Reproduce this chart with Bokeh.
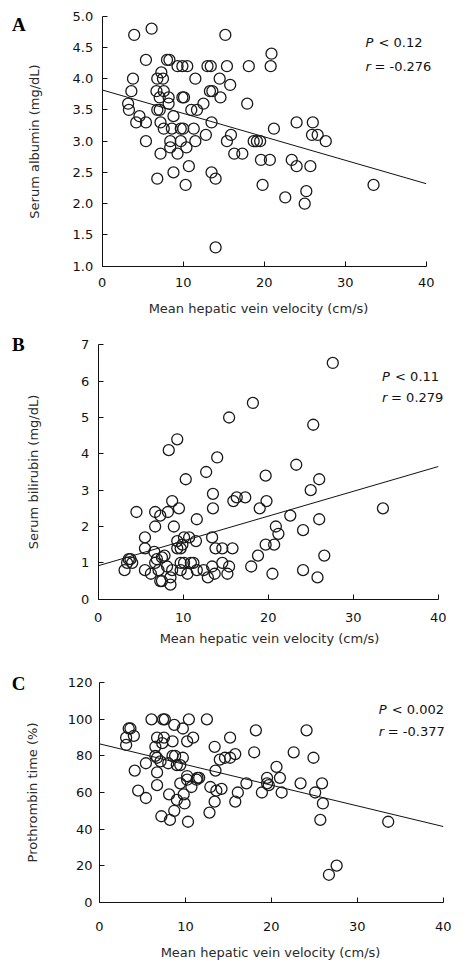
from bokeh.plotting import figure
from bokeh.models import Range1d, Label, FixedTicker, ColumnDataSource
from bokeh.layouts import column
from bokeh.embed import file_html
from bokeh.resources import INLINE

# ---------------- data ----------------
x_label = "Mean hepatic vein velocity (cm/s)"
x_ticks = [0, 10, 20, 30, 40]

# Panel A: serum albumin
albumin_x = [3.95, 6.1, 15.2, 20.9, 5.4, 8.0, 8.3, 9.3, 9.9, 10.5, 13.0, 13.4, 15.4, 18.1, 20.8,
             7.3, 3.8, 6.8, 7.5, 11.5, 14.5, 15.8, 3.6, 6.7, 7.6, 13.3, 13.6,
             7.1, 8.2, 9.9, 10.1, 14.6, 3.2, 8.2, 12.5, 17.9, 3.3, 6.8, 7.1, 11.0, 11.7,
             4.6, 8.8, 4.2, 5.4, 7.2, 13.5, 24.0, 26.0, 7.6, 8.6, 9.7, 10.0, 11.3, 21.2,
             12.8, 15.9, 25.9, 26.6, 5.4, 8.4, 9.7, 11.5, 15.4, 18.7, 19.1, 19.5, 27.6,
             8.4, 10.4, 7.2, 9.3, 16.3, 17.3, 19.6, 20.7, 23.4, 10.7, 24.0, 25.7,
             8.8, 13.5, 6.8, 14.0, 10.3, 19.8, 33.5, 25.2, 22.6, 25.0, 14.0]
albumin_y = [4.7, 4.8, 4.7, 4.4, 4.3, 4.3, 4.3, 4.2, 4.2, 4.2, 4.2, 4.2, 4.2, 4.2, 4.2,
             4.1, 4.0, 4.0, 4.0, 4.0, 4.0, 3.9, 3.8, 3.8, 3.8, 3.8, 3.8,
             3.7, 3.7, 3.7, 3.7, 3.7, 3.6, 3.6, 3.6, 3.6, 3.5, 3.5, 3.5, 3.5, 3.5,
             3.4, 3.4, 3.3, 3.3, 3.3, 3.3, 3.3, 3.3, 3.2, 3.2, 3.2, 3.2, 3.2, 3.2,
             3.1, 3.1, 3.1, 3.1, 3.0, 3.0, 3.0, 3.0, 3.0, 3.0, 3.0, 3.0, 3.0,
             2.9, 2.9, 2.8, 2.8, 2.8, 2.8, 2.7, 2.7, 2.7, 2.6, 2.6, 2.6,
             2.5, 2.5, 2.4, 2.4, 2.3, 2.3, 2.3, 2.2, 2.1, 2.0, 1.3]
albumin_ticks = [1.0, 1.5, 2.0, 2.5, 3.0, 3.5, 4.0, 4.5, 5.0]
albumin_fit = (3.82, -0.0375)   # intercept, slope
albumin_stats = ("< 0.12", "= -0.276")

# Panel B: serum bilirubin
bili_x = [27.6, 18.2, 15.4, 25.3, 9.3, 8.3, 14.0, 23.3, 12.7, 19.7, 10.3, 26.0, 25.0, 13.5,
          16.3, 17.3, 15.9, 8.7, 19.8, 4.5, 6.7, 7.3, 8.2, 9.5, 13.5, 19.0, 33.5, 22.6, 11.6, 26.0,
          6.7, 8.9, 20.9, 24.1, 21.2, 5.5, 10.1, 10.7, 13.4, 9.3, 11.5,
          5.5, 9.3, 9.7, 13.8, 14.6, 15.8, 9.9, 19.7, 20.7, 18.8, 26.6, 6.6, 7.5, 7.8,
          3.6, 3.8, 4.0, 3.4, 6.9, 6.7, 9.7, 10.1, 10.9, 11.2, 14.6,
          3.1, 5.5, 6.2, 7.1, 8.1, 8.7, 9.7, 10.5, 11.6, 12.4, 13.4, 12.9, 13.7, 15.4, 15.2,
          18.0, 20.5, 24.1, 25.8, 7.3, 7.5, 8.5, 8.5]
bili_y = [6.5, 5.4, 5.0, 4.8, 4.4, 4.1, 3.9, 3.7, 3.5, 3.4, 3.3, 3.3, 3.0, 2.9,
          2.8, 2.8, 2.7, 2.7, 2.7, 2.4, 2.4, 2.3, 2.4, 2.5, 2.5, 2.5, 2.5, 2.3, 2.2, 2.2,
          2.0, 2.0, 2.0, 1.9, 1.8, 1.7, 1.7, 1.7, 1.7, 1.6, 1.6,
          1.4, 1.4, 1.4, 1.4, 1.4, 1.4, 1.5, 1.5, 1.5, 1.2, 1.2, 1.3, 1.15, 1.2,
          1.1, 1.1, 1.0, 1.0, 1.1, 1.0, 1.0, 1.0, 1.0, 1.0, 1.0,
          0.8, 0.8, 0.7, 0.8, 0.9, 0.8, 0.8, 0.7, 0.8, 0.8, 0.9, 0.6, 0.7, 0.9, 0.7,
          0.9, 0.7, 0.8, 0.6, 0.5, 0.5, 0.6, 0.4]
bili_ticks = [0, 1, 2, 3, 4, 5, 6, 7]
bili_fit = (0.92, 0.06825)
bili_stats = ("< 0.11", "= 0.279")

# Panel C: prothrombin time
pt_x = [6.05, 7.4, 7.6, 10.4, 12.5, 8.7, 9.7, 3.4, 3.6, 18.2, 24.1,
        3.1, 4.0, 6.7, 7.5, 10.9, 15.2, 3.1, 6.5, 8.5, 10.2, 7.3, 13.4,
        6.5, 6.7, 8.5, 8.8, 9.7, 15.8, 15.2, 14.6, 18.0, 22.6, 24.9, 14.0, 7.1, 8.0, 9.0, 9.4, 5.4,
        4.1, 13.5, 6.7, 20.6, 10.2, 11.4, 11.6, 21.0, 19.5, 11.3, 17.1, 9.4, 10.2, 10.7, 19.5, 19.7,
        23.4, 25.9, 6.7, 12.9, 14.2, 13.6, 4.5, 16.1, 18.9, 21.2, 25.1,
        5.4, 8.1, 9.8, 9.0, 13.4, 15.8, 9.9, 26.0, 8.7, 12.8, 7.2, 8.2, 10.3, 25.7, 33.6, 27.6, 26.7]
pt_y = [100, 100, 100, 100, 100, 97, 95, 95, 95, 94, 94,
        90, 91, 90, 90, 90, 90, 86, 85, 88, 88, 87, 85,
        80, 79, 80, 80, 79, 81, 79, 79, 82, 82, 79, 78, 77, 76, 75, 75, 76,
        72, 72, 71, 74, 69, 68, 68, 68, 68, 67, 65, 65, 67, 63, 65, 64,
        65, 65, 64, 63, 62, 61, 61, 60, 60, 60, 60,
        57, 59, 59, 56, 55, 55, 54, 54, 50, 49, 47, 45, 44, 45, 44, 20, 15]
pt_ticks = [0, 20, 40, 60, 80, 100, 120]
pt_fit = (86.6, -1.13)
pt_stats = ("< 0.002", "= -0.377")

FONT = "DejaVu Sans"
FS = "13px"
W = 465


def panel(letter, xs, ys, fit, stats, ylabel, yticks, ytick_fmt, height,
          x0_px, x40_px, ytop_px, ybot_px, y_ls, y_as, x_ls, title_px,
          letter_pos, stats_pos):
    ymin, ymax = float(yticks[0]), float(yticks[-1])
    xs_per_px = 40.0 / (x40_px - x0_px)
    ys_per_px = (ymax - ymin) / (ybot_px - ytop_px)
    xr = Range1d(-x0_px * xs_per_px, (W - x0_px) * xs_per_px)
    yr = Range1d(ymin - (height - ybot_px) * ys_per_px, ymax + ytop_px * ys_per_px)

    p = figure(width=W, height=height, output_backend="svg", toolbar_location=None,
               x_range=xr, y_range=yr, min_border=0)
    p.outline_line_color = None
    p.xgrid.grid_line_color = None
    p.ygrid.grid_line_color = None

    for ax in (p.xaxis[0], p.yaxis[0]):
        ax.axis_line_color = "#111111"
        ax.major_tick_line_color = "#111111"
        ax.major_tick_in = 5
        ax.major_tick_out = 0
        ax.minor_tick_line_color = None
        ax.major_label_text_font = FONT
        ax.major_label_text_font_size = FS
        ax.major_label_text_color = "#111111"
        ax.axis_label_text_font = FONT
        ax.axis_label_text_font_size = FS
        ax.axis_label_text_font_style = "normal"
        ax.axis_label_text_color = "#2a2a2a"

    p.xaxis.fixed_location = ymin
    p.xaxis.bounds = (0, 40)
    p.xaxis.ticker = FixedTicker(ticks=x_ticks)
    p.xaxis.major_label_standoff = x_ls

    p.yaxis.fixed_location = 0
    p.yaxis.bounds = (ymin, ymax)
    p.yaxis.ticker = FixedTicker(ticks=yticks)
    p.yaxis.major_label_overrides = {t: ytick_fmt(t) for t in yticks}
    p.yaxis.axis_label = ylabel
    p.yaxis.major_label_standoff = y_ls
    p.yaxis.axis_label_standoff = y_as

    # x-axis title (placed as a label below the axis)
    tx_px, ty_px = title_px
    p.add_layout(Label(x=(tx_px - x0_px) * xs_per_px, y=ymin - (ty_px - ybot_px) * ys_per_px,
                       text=x_label, text_font=FONT, text_font_size=FS, text_color="#2a2a2a",
                       text_align="center", text_baseline="middle"))

    # regression line from fit parameters
    a, b = fit
    lx = [0, 40]
    ly = [a + b * v for v in lx]
    p.line(lx, ly, line_color="#111111", line_width=1)

    src = ColumnDataSource(dict(x=xs, y=ys))
    p.scatter("x", "y", source=src, size=11, fill_color=None,
              line_color="#1a1a1a", line_width=1.3)

    sx, sy1, sy2 = stats_pos
    p.add_layout(Label(x=sx, y=sy1, text="P", text_font=FONT, text_font_size=FS,
                       text_font_style="italic", text_baseline="middle", text_color="#111111"))
    p.add_layout(Label(x=sx, y=sy1, x_offset=13, text=stats[0], text_font=FONT, text_font_size=FS,
                       text_baseline="middle", text_color="#111111"))
    p.add_layout(Label(x=sx, y=sy2, text="r", text_font=FONT, text_font_size=FS,
                       text_font_style="italic", text_baseline="middle", text_color="#111111"))
    p.add_layout(Label(x=sx, y=sy2, x_offset=9, text=stats[1], text_font=FONT, text_font_size=FS,
                       text_baseline="middle", text_color="#111111"))

    lxp, lyp = letter_pos
    p.add_layout(Label(x=lxp, y=lyp, text=letter, text_font="Liberation Serif",
                       text_font_size="19px", text_font_style="bold",
                       text_align="center", text_baseline="middle", text_color="#000000"))
    return p


pA = panel("A", albumin_x, albumin_y, albumin_fit, albumin_stats, "Serum albumin (mg/dL)",
           albumin_ticks, lambda t: f"{t:.1f}", 320,
           101.7, 425.7, 15.7, 265.7, 9, 28, 12, (258, 308),
           (-10.3, 4.87), (32.5, 4.584, 4.2))

pB = panel("B", bili_x, bili_y, bili_fit, bili_stats, "Serum bilirubin (mg/dL)",
           bili_ticks, lambda t: f"{t}", 330,
           97.7, 437.7, 24.3, 278.7, 9, 37, 14, (269, 318),
           (-9.4, 7.0), (33.4, 6.13, 5.54))

pC = panel("C", pt_x, pt_y, pt_fit, pt_stats, "Prothrombin time (%)",
           pt_ticks, lambda t: f"{t}", 319,
           99.0, 442.7, 32.3, 251.7, 7, 25, 20, (270, 301.7),
           (-9.4, 119.5), (32.5, 105.2, 93.4))

layout = column(pA, pB, pC, spacing=0)

with open("out.html", "w") as f:
    f.write(file_html(layout, INLINE))
